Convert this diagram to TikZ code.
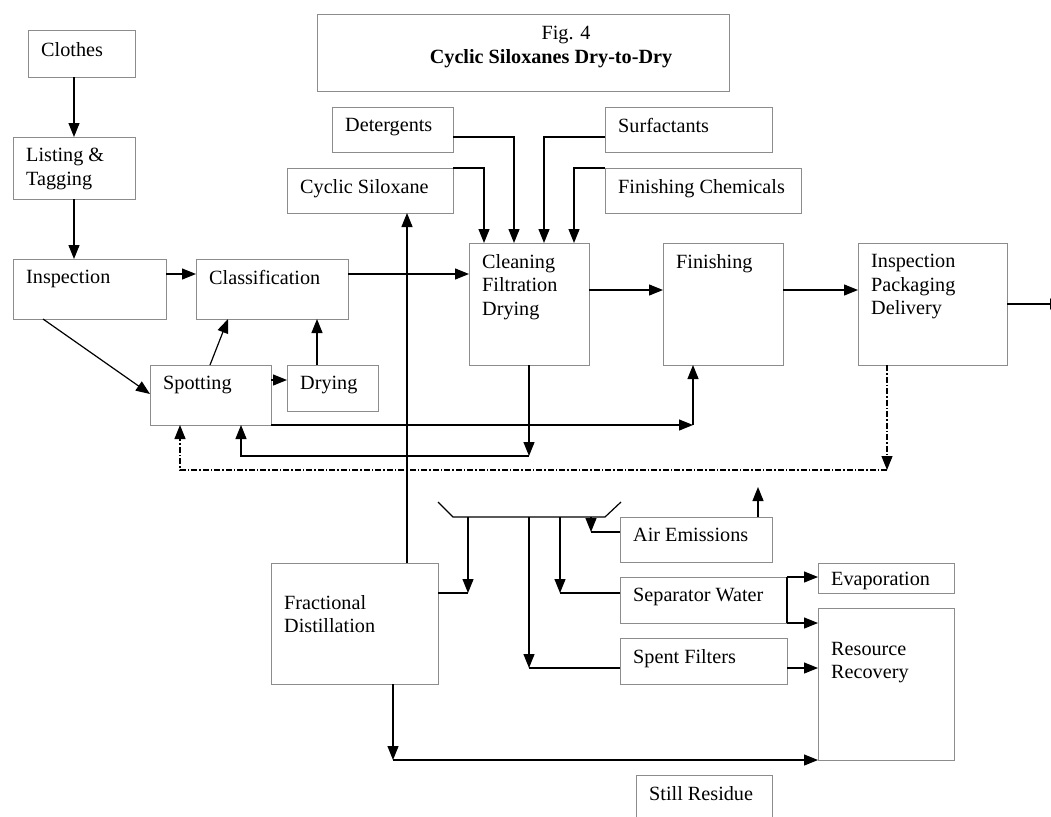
\documentclass[tikz,border=0pt]{standalone}
\usepackage{fontspec}
\setmainfont{Liberation Serif}
\usetikzlibrary{arrows.meta}

\begin{document}
\begin{tikzpicture}[x=1pt,y=-1pt]

  \definecolor{boxcol}{rgb}{0.55,0.55,0.55}

  \tikzset{
      pbox/.style={draw=boxcol,line width=1pt,inner sep=0pt,outer sep=0pt,anchor=north west},
      lbl/.style={anchor=north west,align=left,inner xsep=13pt,inner ysep=11pt,
                  font=\fontsize{20.2pt}{23.5pt}\selectfont},
      arr/.style={line width=1.2pt,-{Triangle[length=14pt,width=11pt]}},
      ln/.style={line width=1.2pt},
      ddot/.style={dash pattern=on 6pt off 2pt on 1.5pt off 2pt},
    }

  \useasboundingbox (0,0) rectangle (1051,816);

  %% left column
  \node[pbox,minimum width=107pt,minimum height=46pt,label={[lbl]north west:Clothes}] (clothes) at (28,31) {};
  \node[pbox,minimum width=122pt,minimum height=62pt,label={[lbl]north west:{Listing \&\\Tagging}}] (list) at (13,137) {};
  \node[pbox,minimum width=153pt,minimum height=60pt,label={[lbl]north west:Inspection}] (insp) at (13,259) {};
  \node[pbox,minimum width=152pt,minimum height=60pt,label={[lbl]north west:Classification}] (class) at (196,259) {};
  \node[pbox,minimum width=121pt,minimum height=60pt,label={[lbl]north west:Spotting}] (spot) at (150,365) {};
  \node[pbox,minimum width=91pt,minimum height=46pt,label={[lbl]north west:Drying}] (dry) at (287,365) {};

  %% title
  \node[pbox,minimum width=412pt,minimum height=76pt,
        label={[lbl,anchor=north,align=center,xshift=28pt]north:{\hspace*{30pt}Fig. 4\\\textbf{Cyclic Siloxanes Dry-to-Dry}}}] (title) at (317,15) {};

  %% inputs
  \node[pbox,minimum width=121pt,minimum height=45pt,label={[lbl]north west:Detergents}] (deter) at (332,107) {};
  \node[pbox,minimum width=167pt,minimum height=45pt,label={[lbl]north west:Surfactants}] (surf) at (605,107) {};
  \node[pbox,minimum width=166pt,minimum height=45pt,label={[lbl]north west:Cyclic Siloxane}] (cyc) at (287,168) {};
  \node[pbox,minimum width=196pt,minimum height=45pt,label={[lbl]north west:Finishing Chemicals}] (finchem) at (605,168) {};

  %% main line
  \node[pbox,minimum width=120pt,minimum height=122pt,label={[lbl]north west:{Cleaning\\Filtration\\Drying}}] (clean) at (469,243) {};
  \node[pbox,minimum width=120pt,minimum height=122pt,label={[lbl]north west:Finishing}] (finish) at (663,243) {};
  \node[pbox,minimum width=149pt,minimum height=122pt,label={[lbl]north west:{Inspection\\Packaging\\Delivery}}] (ipd) at (858,243) {};

  %% waste side
  \node[pbox,minimum width=167pt,minimum height=121pt,label={[lbl,yshift=-21pt]north west:{Fractional\\Distillation}}] (fd) at (271,563) {};
  \node[pbox,minimum width=152pt,minimum height=45pt,label={[lbl]north west:Air Emissions}] (air) at (620,517) {};
  \node[pbox,minimum width=167pt,minimum height=46pt,label={[lbl]north west:Separator Water}] (sep) at (620,577) {};
  \node[pbox,minimum width=167pt,minimum height=46pt,label={[lbl]north west:Spent Filters}] (spent) at (620,638) {};
  \node[pbox,minimum width=136pt,minimum height=30pt,label={[lbl,inner ysep=9pt]north west:Evaporation}] (evap) at (818,563) {};
  \node[pbox,minimum width=136pt,minimum height=152pt,label={[lbl,yshift=-23pt]north west:{Resource\\Recovery}}] (rr) at (818,608) {};
  \node[pbox,minimum width=136pt,minimum height=60pt,label={[lbl]north west:Still Residue}] (still) at (636,775) {};

  %% corners and free ends
  \coordinate (cSF) at (693,425);
  \coordinate (cCL) at (529,456);
  \coordinate (cIP) at (887,470);
  \coordinate (cFR) at (393,760);
  \coordinate (outR) at (1064,304);
  \coordinate (airOut) at (758,487);

  % collecting trough
  \coordinate (tipL) at (438,502);
  \coordinate (busL) at (453,517);
  \coordinate (busR) at (605,517);
  \coordinate (tipR) at (621,502);
  \coordinate (dFD) at (468,593);
  \coordinate (dSF) at (529,668);
  \coordinate (dSW) at (560,593);
  \coordinate (dAE) at (591,532);

  \draw[arr] (list.north |- clothes.south) -- (list.north);
  \draw[arr] (list.south) -- (list.south |- insp.north);
  \draw[arr] ([yshift=-15pt]insp.north east) -- ([yshift=-15pt]class.north west);
  \draw[arr] ([xshift=30pt]insp.south west) -- ([yshift=-29pt]spot.north west);
  \draw[arr] ([xshift=60pt]spot.north west) -- ([xshift=32pt]class.south west);
  \draw[arr] ([yshift=-15pt]spot.north east) -- ([yshift=-15pt]dry.north west);
  \draw[arr] ([xshift=30pt]dry.north west) -- ([xshift=30pt]dry.north west |- class.south);
  \draw[arr] ([yshift=-15pt]class.north east) -- ([yshift=-31pt]clean.north west);

  \draw[arr] ([yshift=-30pt]deter.north east) -| ([xshift=45pt]clean.north west);
  \draw[arr] (cyc.north east) -| ([xshift=15pt]clean.north west);
  \draw[arr] ([yshift=-30pt]surf.north west) -| ([xshift=75pt]clean.north west);
  \draw[arr] (finchem.north west) -| ([xshift=105pt]clean.north west);

  \draw[arr] ([yshift=-47pt]clean.north east) -- ([yshift=-47pt]finish.north west);
  \draw[arr] ([yshift=-47pt]finish.north east) -- ([yshift=-47pt]ipd.north west);
  \draw[arr] (ipd.east |- outR) -- (outR);

  \draw[arr] (spot.south east) -- (cSF);
  \draw[arr] (cSF) -- (cSF |- finish.south);
  \draw[arr] (clean.south -| cCL) -- (cCL);
  \draw[arr] (cCL) -| ([xshift=91pt]spot.south west);
  \draw[arr,ddot] (ipd.south -| cIP) -- (cIP);
  \draw[arr,ddot] (cIP) -| ([xshift=30pt]spot.south west);

  \draw[arr] ([xshift=136pt]fd.north west) -- ([xshift=136pt]fd.north west |- cyc.south);

  \draw[ln] (tipL) -- (busL) -- (busR) -- (tipR);
  \draw[arr] (dFD |- busL) -- (dFD);
  \draw[ln] (fd.east |- dFD) -- (dFD);
  \draw[arr] (dSF |- busL) -- (dSF);
  \draw[ln] (spent.west |- dSF) -- (dSF);
  \draw[arr] (dSW |- busL) -- (dSW);
  \draw[ln] (sep.west |- dSW) -- (dSW);
  \draw[arr] (dAE |- busL) -- (dAE);
  \draw[ln] (air.west |- dAE) -- (dAE);

  \draw[arr] (air.north -| airOut) -- (airOut);
  \draw[ln] (sep.north east) -- (sep.south east);
  \draw[arr] (sep.north east) -- (sep.north east -| evap.west);
  \draw[arr] (sep.south east) -- (sep.south east -| rr.west);
  \draw[arr] (spent.east |- dSF) -- (dSF -| rr.west);
  \draw[arr] (fd.south -| cFR) -- (cFR);
  \draw[arr] (cFR) -- (cFR -| rr.west);

\end{tikzpicture}
\end{document}
